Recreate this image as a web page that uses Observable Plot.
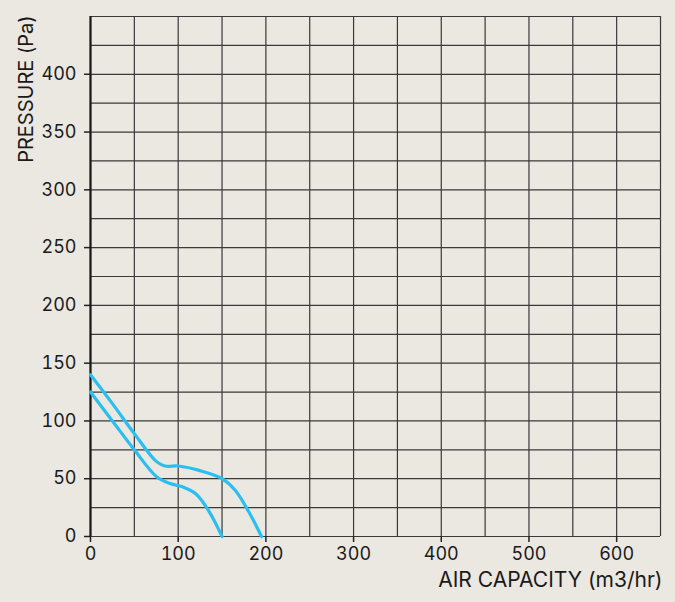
<!DOCTYPE html>
<html><head><meta charset="utf-8">
<script src="https://cdn.jsdelivr.net/npm/d3@7"></script>
<script src="https://cdn.jsdelivr.net/npm/@observablehq/plot@0.6"></script>
<style>
html,body{margin:0;padding:0;background:#ebe7e1;}
#chart{width:675px;height:602px;}
</style></head>
<body><div id="chart"></div>
<script>
const upperX = [0, 25, 50, 75, 85, 100, 125, 150, 165, 180, 195];
const upperY = [140, 115, 89, 65, 61, 61, 57, 50, 40, 22, 0];
const lowerX = [0, 25, 50, 75, 90, 105, 120, 135, 150];
const lowerY = [125, 100, 75, 52, 46, 43, 37, 22, 0];
const xTicks = [0, 100, 200, 300, 400, 500, 600];
const yTicks = [0, 50, 100, 150, 200, 250, 300, 350, 400];
const xGrid = d3.range(0, 651, 50);
const yGrid = d3.range(0, 451, 25);
const xLabel = "AIR CAPACITY (m3/hr)";
const yLabel = "PRESSURE (Pa)";

const upper = upperX.map((x, i) => ({x, y: upperY[i]}));
const lower = lowerX.map((x, i) => ({x, y: lowerY[i]}));

const plot = Plot.plot({
  width: 675, height: 602,
  marginLeft: 90, marginRight: 15, marginTop: 16, marginBottom: 66,
  style: {background: "#ebe7e1", fontFamily: "Inter, 'Open Sans', sans-serif", color: "#1a1a1a", overflow: "visible"},
  x: {domain: [0, 650]},
  y: {domain: [0, 450]},
  marks: [
    Plot.ruleX(xGrid, {stroke: "#3a3a3a", strokeWidth: 1.2}),
    Plot.ruleY(yGrid, {stroke: "#3a3a3a", strokeWidth: 1.2}),
    Plot.axisX({ticks: xTicks, tickSize: 6, tickPadding: 5, fontSize: 18, label: null, stroke: "#222", strokeWidth: 1.5}),
    Plot.axisY({ticks: yTicks, tickSize: 6, tickPadding: 8, fontSize: 18, label: null, stroke: "#222", strokeWidth: 1.5}),
    Plot.ruleX([0], {stroke: "#1a1a1a", strokeWidth: 2.2, y1: 0, y2: 450}),
    Plot.line(lower, {x: "x", y: "y", stroke: "#2bbff0", strokeWidth: 3.2, curve: "catmull-rom"}),
    Plot.line(upper, {x: "x", y: "y", stroke: "#2bbff0", strokeWidth: 3.2, curve: "catmull-rom"}),
    Plot.text([xLabel], {frameAnchor: "bottom-right", textAnchor: "end", lineAnchor: "middle", dx: 2, dy: 44, fontSize: 21, fill: "#1a1a1a"}),
    Plot.text([yLabel], {frameAnchor: "top-left", textAnchor: "end", lineAnchor: "middle", rotate: -90, dx: -64, dy: -1, fontSize: 20, fill: "#1a1a1a"})
  ]
});
document.getElementById("chart").appendChild(plot);
</script>
</body></html>
